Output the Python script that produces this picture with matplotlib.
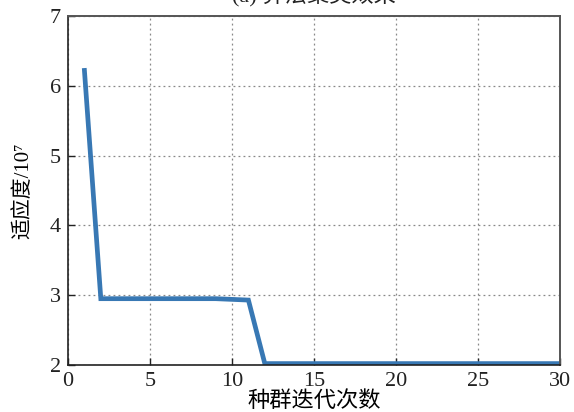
import matplotlib
matplotlib.use("Agg")
import matplotlib.pyplot as plt

plt.rcParams['font.family'] = ['Liberation Serif', 'Noto Sans CJK SC', 'DejaVu Sans']

# Best fitness per generation (units of 1e7)
generations = list(range(1, 31))
fitness = [6.22, 2.95, 2.95, 2.95, 2.95, 2.95, 2.95, 2.95, 2.95, 2.94,
           2.93, 2.02, 2.02, 2.02, 2.02, 2.02, 2.02, 2.02, 2.02, 2.02,
           2.02, 2.02, 2.02, 2.02, 2.02, 2.02, 2.02, 2.02, 2.02, 2.02]
x_ticks = [0, 5, 10, 15, 20, 25, 30]
y_ticks = [2, 3, 4, 5, 6, 7]

fig = plt.figure(figsize=(5.74, 4.12), dpi=100)
ax = fig.add_axes([0.1185, 0.1141, 0.8571, 0.8471])

ax.plot(generations, fitness, color='#3878b4', linewidth=3.4, solid_joinstyle='miter')

ax.set_xlim(0, 30)
ax.set_ylim(2, 7)
ax.set_xticks(x_ticks)
ax.set_yticks(y_ticks)
ax.tick_params(direction='in', length=5, width=1, labelsize=16,
               top=False, right=False, colors='#222222')
ax.tick_params(axis='x', pad=5)
ax.tick_params(axis='y', pad=5)
ax.grid(True, linestyle=(0, (1.5, 2.5)), color='#888888', linewidth=0.9)

for side in ['left', 'bottom']:
    ax.spines[side].set_color('#222222')
    ax.spines[side].set_linewidth(1.2)
for side in ['top', 'right']:
    ax.spines[side].set_color('#555555')
    ax.spines[side].set_linewidth(1.4)

ax.set_xlabel('种群迭代次数', fontsize=16, labelpad=0)
ax.set_ylabel('适应度/10\u2077', fontsize=15, labelpad=12)

fig.text(0.547, 1.012, '(a) 算法聚类效果', fontsize=16, ha='center', va='center',
         color='#222222')

fig.savefig('out.png', dpi=100)
